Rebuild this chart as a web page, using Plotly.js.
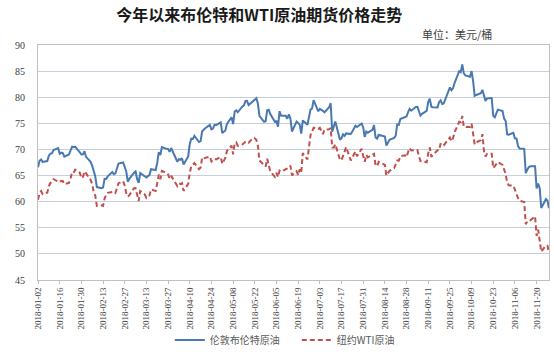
<!DOCTYPE html>
<html><head><meta charset="utf-8">
<script src="https://cdn.plot.ly/plotly-3.0.1.min.js"></script>
<style>html,body{margin:0;padding:0;background:#fff}#c{width:554px;height:359px}</style>
</head><body><div id="c"></div>
<script>
const dates = [
'2018-01-02','2018-01-03','2018-01-04','2018-01-05','2018-01-08','2018-01-09','2018-01-10','2018-01-11','2018-01-12','2018-01-15','2018-01-16','2018-01-17','2018-01-18','2018-01-19','2018-01-22','2018-01-23','2018-01-24','2018-01-25','2018-01-26','2018-01-29','2018-01-30','2018-01-31',
'2018-02-01','2018-02-02','2018-02-05','2018-02-06','2018-02-07','2018-02-08','2018-02-09','2018-02-12','2018-02-13','2018-02-14','2018-02-15','2018-02-16','2018-02-19','2018-02-20','2018-02-21','2018-02-22','2018-02-23','2018-02-26','2018-02-27','2018-02-28',
'2018-03-01','2018-03-02','2018-03-05','2018-03-06','2018-03-07','2018-03-08','2018-03-09','2018-03-12','2018-03-13','2018-03-14','2018-03-15','2018-03-16','2018-03-19','2018-03-20','2018-03-21','2018-03-22','2018-03-23','2018-03-26','2018-03-27','2018-03-28','2018-03-29',
'2018-04-02','2018-04-03','2018-04-04','2018-04-05','2018-04-06','2018-04-09','2018-04-10','2018-04-11','2018-04-12','2018-04-13','2018-04-16','2018-04-17','2018-04-18','2018-04-19','2018-04-20','2018-04-23','2018-04-24','2018-04-25','2018-04-26','2018-04-27','2018-04-30',
'2018-05-01','2018-05-02','2018-05-03','2018-05-04','2018-05-07','2018-05-08','2018-05-09','2018-05-10','2018-05-11','2018-05-14','2018-05-15','2018-05-16','2018-05-17','2018-05-18','2018-05-21','2018-05-22','2018-05-23','2018-05-24','2018-05-25','2018-05-28','2018-05-29','2018-05-30','2018-05-31',
'2018-06-01','2018-06-04','2018-06-05','2018-06-06','2018-06-07','2018-06-08','2018-06-11','2018-06-12','2018-06-13','2018-06-14','2018-06-15','2018-06-18','2018-06-19','2018-06-20','2018-06-21','2018-06-22','2018-06-25','2018-06-26','2018-06-27','2018-06-28','2018-06-29',
'2018-07-02','2018-07-03','2018-07-05','2018-07-06','2018-07-09','2018-07-10','2018-07-11','2018-07-12','2018-07-13','2018-07-16','2018-07-17','2018-07-18','2018-07-19','2018-07-20','2018-07-23','2018-07-24','2018-07-25','2018-07-26','2018-07-27','2018-07-30','2018-07-31',
'2018-08-01','2018-08-02','2018-08-03','2018-08-06','2018-08-07','2018-08-08','2018-08-09','2018-08-10','2018-08-13','2018-08-14','2018-08-15','2018-08-16','2018-08-17','2018-08-20','2018-08-21','2018-08-22','2018-08-23','2018-08-24','2018-08-27','2018-08-28','2018-08-29','2018-08-30','2018-08-31',
'2018-09-03','2018-09-04','2018-09-05','2018-09-06','2018-09-07','2018-09-10','2018-09-11','2018-09-12','2018-09-13','2018-09-14','2018-09-17','2018-09-18','2018-09-19','2018-09-20','2018-09-21','2018-09-24','2018-09-25','2018-09-26','2018-09-27','2018-09-28',
'2018-10-01','2018-10-02','2018-10-03','2018-10-04','2018-10-05','2018-10-08','2018-10-09','2018-10-10','2018-10-11','2018-10-12','2018-10-15','2018-10-16','2018-10-17','2018-10-18','2018-10-19','2018-10-22','2018-10-23','2018-10-24','2018-10-25','2018-10-26','2018-10-29','2018-10-30','2018-10-31',
'2018-11-01','2018-11-02','2018-11-05','2018-11-06','2018-11-07','2018-11-08','2018-11-09','2018-11-12','2018-11-13','2018-11-14','2018-11-15','2018-11-16','2018-11-19','2018-11-20','2018-11-21','2018-11-22','2018-11-23','2018-11-26','2018-11-27','2018-11-28'
];
const brent = [
66.57,67.84,68.07,67.62,67.78,68.82,69.20,69.26,69.87,70.26,69.15,69.38,69.31,68.61,69.03,69.96,70.53,70.42,70.52,69.46,69.02,69.05,
69.65,68.58,67.62,66.86,65.51,64.81,62.79,62.59,62.72,64.36,64.33,64.84,65.67,65.25,65.42,66.39,67.31,67.50,66.63,65.78,
63.83,64.37,65.54,65.79,64.34,63.61,65.49,64.95,64.64,64.89,65.12,66.21,66.05,67.42,69.47,68.91,70.45,70.12,70.11,69.53,70.27,
67.64,68.12,68.02,68.33,67.11,68.65,71.04,72.06,72.02,72.58,71.42,71.58,73.48,73.78,74.06,74.71,73.86,74.00,74.74,74.64,75.17,
73.13,73.36,73.62,74.87,76.17,74.85,77.21,77.47,77.12,78.23,78.43,79.28,79.30,78.51,79.22,79.57,79.80,78.79,76.44,75.30,75.39,77.50,77.59,
76.79,75.29,75.38,74.36,77.32,76.46,76.46,75.88,76.74,75.94,73.44,75.34,75.08,74.74,73.05,75.55,74.73,76.31,77.62,77.85,79.44,
77.30,77.76,77.39,77.11,78.07,78.86,73.40,74.45,75.33,71.84,72.16,72.90,72.58,73.07,72.96,73.44,73.93,74.54,74.29,74.97,74.25,
72.39,73.45,73.21,73.75,74.65,72.28,72.07,72.81,72.61,72.46,70.76,71.43,71.83,72.21,72.63,74.78,74.73,75.82,76.21,76.31,77.14,77.77,77.42,
78.15,78.17,77.27,76.50,76.83,77.37,79.06,79.74,78.18,78.09,78.05,79.03,79.40,78.70,78.80,81.20,81.87,81.34,81.72,82.72,
84.98,84.80,86.29,84.58,84.16,83.91,85.00,83.09,80.26,80.43,80.78,81.41,80.05,79.29,79.78,79.83,76.44,76.17,76.89,77.62,77.34,75.91,75.47,
72.89,72.83,73.17,72.13,72.07,70.65,70.18,70.12,65.47,66.12,66.62,66.76,66.79,62.53,63.48,62.60,58.80,60.48,60.21,58.76
];
const wti = [
60.37,61.63,62.01,61.44,61.73,62.96,63.57,63.80,64.30,null,63.73,63.97,63.95,63.37,63.57,64.47,65.61,65.51,66.14,65.56,64.50,64.73,
65.80,65.45,64.15,63.39,61.79,61.15,59.20,59.29,59.19,60.60,61.34,61.68,null,61.90,61.68,62.77,63.55,63.91,63.01,61.64,
60.99,61.25,62.57,62.60,61.15,60.12,62.04,61.36,60.71,60.96,61.19,62.34,62.06,63.54,65.17,64.30,65.88,65.55,65.25,64.38,64.94,
63.01,63.51,63.37,63.54,62.06,63.42,65.51,66.82,67.07,67.39,66.22,66.52,68.47,68.29,68.38,68.64,67.70,68.05,68.19,68.10,68.57,
67.25,67.93,68.43,69.72,70.73,69.06,71.14,71.36,70.70,70.96,71.31,71.49,71.49,71.28,72.24,72.13,71.84,70.71,67.88,null,66.73,68.21,67.04,
65.81,64.75,65.52,64.73,65.95,65.74,66.10,66.36,66.64,66.89,65.06,65.85,65.07,66.22,65.54,69.30,68.08,70.53,72.76,73.45,74.15,
73.94,74.14,72.94,73.80,73.85,74.11,70.38,70.33,71.01,68.06,67.92,68.76,69.46,70.46,67.89,68.52,69.30,69.61,68.69,70.13,68.76,
67.66,68.96,68.49,69.01,69.17,66.94,66.81,67.63,67.20,67.04,65.01,65.46,65.91,66.43,67.35,67.86,67.83,68.72,68.87,68.53,69.51,70.25,69.80,
null,69.87,68.72,67.77,67.75,67.54,69.25,70.37,68.59,68.99,69.85,69.85,71.12,70.80,70.78,72.08,72.28,71.57,72.12,73.25,
75.30,75.23,76.41,74.33,74.34,74.29,74.96,73.17,70.97,71.34,71.78,72.92,69.75,68.65,69.12,69.17,66.43,66.82,67.33,67.59,67.04,66.18,65.31,
63.69,63.14,63.10,62.21,61.67,60.67,60.19,59.93,55.69,56.25,56.46,56.46,57.20,53.43,54.63,null,50.42,51.63,51.56,50.29
];
const seriesNames = ['伦敦布伦特原油', '纽约WTI原油'];
const titleText = '今年以来布伦特和WTI原油期货价格走势';
const unitText = '单位：美元/桶';

const serif = 'Liberation Serif, Times New Roman, serif';
const cjk = 'Noto Sans CJK SC, sans-serif';

const traces = [
  {x: dates, y: brent, name: seriesNames[0], type: 'scatter', mode: 'lines', connectgaps: true,
   line: {color: '#4a78b0', width: 2}},
  {x: dates, y: wti, name: seriesNames[1], type: 'scatter', mode: 'lines', connectgaps: true,
   line: {color: '#c0504d', width: 2, dash: '5px,3px'}}
];
const layout = {
  width: 554, height: 359,
  margin: {l: 38, r: 5, t: 45, b: 75},
  paper_bgcolor: '#fff', plot_bgcolor: '#fff',
  showlegend: true,
  title: {text: '<b>' + titleText + '</b>', x: 0.468, xref: 'container', xanchor: 'center',
          y: 0.956, yref: 'container', yanchor: 'middle',
          font: {family: cjk, size: 16, color: '#1a1a1a'}},
  xaxis: {type: 'date', range: ['2018-01-02', '2018-11-28'],
          tick0: '2018-01-02', dtick: 14*86400000, tickformat: '%Y-%m-%d',
          tickangle: -90, tickfont: {family: serif, size: 9, color: '#404040'},
          showgrid: false, showline: true, linecolor: '#bfbfbf', linewidth: 1, mirror: true,
          ticks: 'outside', ticklen: 3, tickcolor: '#bfbfbf', zeroline: false},
  yaxis: {range: [45, 90], dtick: 5, tick0: 45,
          tickfont: {family: serif, size: 10, color: '#404040'}, ticklabelstandoff: 10,
          showgrid: true, gridcolor: '#c6d0dc', gridwidth: 1,
          showline: true, linecolor: '#bfbfbf', linewidth: 1, mirror: true,
          ticks: '', zeroline: false},
  legend: {orientation: 'h', x: 0.258, xanchor: 'left', y: -0.255, yanchor: 'middle',
           entrywidth: 82,
           font: {family: cjk, size: 10, color: '#595959'}, itemwidth: 30, bgcolor: 'rgba(0,0,0,0)'},
  annotations: [{text: unitText, xref: 'paper', yref: 'paper', x: 0.82, y: 1.046,
                 xanchor: 'center', yanchor: 'middle', showarrow: false,
                 font: {family: cjk, size: 11, color: '#404040'}}]
};
Plotly.newPlot('c', traces, layout, {displayModeBar: false, staticPlot: true});
</script></body></html>
